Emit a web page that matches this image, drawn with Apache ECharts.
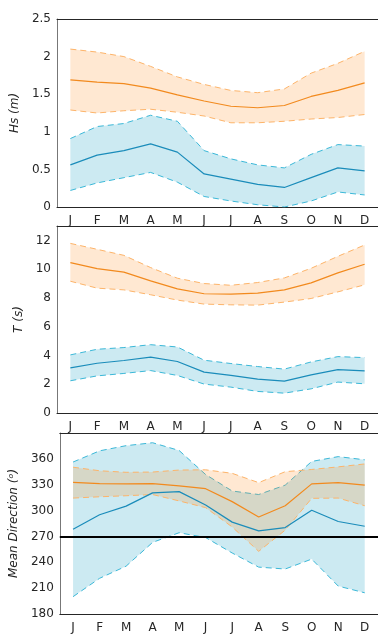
<!DOCTYPE html>
<html><head><meta charset="utf-8">
<script src="https://cdn.jsdelivr.net/npm/echarts@6/dist/echarts.min.js"></script>
<style>html,body{margin:0;padding:0;background:#fff}#c{width:378px;height:634px}</style>
</head><body><div id="c"></div>
<script>
var months = ['J','F','M','A','M','J','J','A','S','O','N','D'];

// Panel 1: Hs (m)
var hsOrangeMean  = [1.69,1.66,1.64,1.58,1.49,1.41,1.34,1.32,1.35,1.47,1.55,1.65];
var hsOrangeUpper = [2.10,2.06,2.00,1.87,1.73,1.63,1.55,1.52,1.57,1.78,1.91,2.07];
var hsOrangeLower = [1.29,1.25,1.28,1.30,1.26,1.21,1.12,1.12,1.14,1.17,1.19,1.23];
var hsBlueMean    = [0.56,0.69,0.75,0.84,0.73,0.44,0.37,0.30,0.26,0.39,0.52,0.48];
var hsBlueUpper   = [0.91,1.07,1.11,1.22,1.14,0.75,0.64,0.56,0.52,0.70,0.83,0.81];
var hsBlueLower   = [0.22,0.32,0.39,0.46,0.33,0.14,0.08,0.03,0.00,0.08,0.20,0.16];

// Panel 2: T (s)
var tOrangeMean  = [10.45,10.04,9.79,9.19,8.63,8.29,8.26,8.33,8.56,9.05,9.74,10.34];
var tOrangeUpper = [11.79,11.38,10.96,10.11,9.37,9.00,8.88,9.07,9.39,10.06,10.89,11.68];
var tOrangeLower = [9.16,8.68,8.56,8.22,7.85,7.57,7.52,7.50,7.71,7.96,8.42,8.91];
var tBlueMean    = [3.14,3.46,3.65,3.88,3.58,2.84,2.61,2.35,2.22,2.65,3.02,2.93];
var tBlueUpper   = [4.04,4.43,4.55,4.75,4.59,3.67,3.44,3.23,3.05,3.55,3.92,3.85];
var tBlueLower   = [2.24,2.58,2.75,2.95,2.61,2.01,1.80,1.50,1.38,1.68,2.15,2.03];

// Panel 3: Mean Direction (deg)
var dOrangeMean  = [332.8,331.3,331.0,331.3,328.7,325.4,310.4,292.6,305.6,331.0,332.4,329.5];
var dOrangeUpper = [350.3,346.2,344.4,344.7,347.0,347.3,343.2,332.4,345.1,347.7,350.7,354.1];
var dOrangeLower = [314.5,316.0,317.2,318.6,311.2,303.4,281.0,252.7,277.3,314.2,314.5,305.6];
var dBlueMean    = [278.4,295.2,305.2,320.5,322.0,306.4,286.6,276.5,280.3,300.4,287.3,281.8];
var dBlueUpper   = [356.3,369.3,375.3,378.7,369.7,341.8,322.7,318.6,329.5,357.0,362.6,358.9];
var dBlueLower   = [200.1,221.4,235.5,263.1,274.3,268.7,250.8,234.4,232.2,243.7,212.4,204.6];
var refDirection = 270;

var yNames = ['Hs (m)', 'T (s)', 'Mean Direction (ᵒ)'];

var TXT = '#262626', AX = '#262626';
var ORANGE = '#F28A1E', BLUE = '#1A8CBA';
var ORANGE_D = '#FDB46A', BLUE_D = '#3BB8D8';
var ORANGE_F = 'rgba(255,140,30,0.2)', BLUE_F = 'rgba(0,150,190,0.2)';
var FONT = 'DejaVu Sans';

var grids = [
  {left:57, top:19, width:327, height:188},
  {left:57, top:226, width:327, height:187},
  {left:57, top:433, width:327, height:187}
];
var xAxes = [], yAxes = [], series = [];
var yCfg = [
  {min:0, max:2.5, interval:0.5, gap:28},
  {min:0, max:13, interval:2, gap:28, hideMax:true},
  {min:180, max:390, interval:30, gap:31, hideMax:true}
];
var data = [
  [hsBlueMean,hsBlueUpper,hsBlueLower,hsOrangeMean,hsOrangeUpper,hsOrangeLower],
  [tBlueMean,tBlueUpper,tBlueLower,tOrangeMean,tOrangeUpper,tOrangeLower],
  [dBlueMean,dBlueUpper,dBlueLower,dOrangeMean,dOrangeUpper,dOrangeLower]
];
function diff(u,l){ return u.map(function(v,k){ return +(v - l[k]).toFixed(3); }); }
for (var i = 0; i < 3; i++) {
  xAxes.push({gridIndex:i, type:'category', data:months, position:'bottom',
    axisLine:{lineStyle:{color:AX, width:1}},
    axisTick:{inside:true, alignWithLabel:true, length:4, lineStyle:{color:AX}},
    axisLabel:{color:TXT, fontFamily:FONT, fontSize:12, margin:8},
    splitLine:{show:false}});
  xAxes.push({gridIndex:i, type:'category', data:months, position:'top',
    axisLine:{lineStyle:{color:AX, width:1}},
    axisTick:{inside:true, alignWithLabel:true, length:4, lineStyle:{color:AX}},
    axisLabel:{show:false}, splitLine:{show:false}});
  var c = yCfg[i];
  yAxes.push({gridIndex:i, type:'value', min:c.min, max:c.max, interval:c.interval,
    name:yNames[i], nameLocation:'middle', nameGap:c.gap,
    nameTextStyle:{color:TXT, fontFamily:FONT, fontSize:12, fontStyle:'italic'},
    axisLine:{show:true, lineStyle:{color:'#777', width:1}},
    axisTick:{inside:true, length:4, lineStyle:{color:AX}},
    axisLabel:{color:TXT, fontFamily:FONT, fontSize:12, margin:6, showMaxLabel: c.hideMax ? false : true},
    splitLine:{show:false}});
  var d = data[i];
  var xi = i*2;
  // blue band
  series.push({type:'line', xAxisIndex:xi, yAxisIndex:i, data:d[2], stack:'b'+i, symbol:'none',
    lineStyle:{color:BLUE_D, width:1, type:[6,4]}, z:2, silent:true});
  series.push({type:'line', xAxisIndex:xi, yAxisIndex:i, data:diff(d[1],d[2]), stack:'b'+i, symbol:'none',
    lineStyle:{opacity:0, width:0}, areaStyle:{color:BLUE_F, opacity:1}, z:1, silent:true});
  series.push({type:'line', xAxisIndex:xi, yAxisIndex:i, data:d[1], symbol:'none',
    lineStyle:{color:BLUE_D, width:1, type:[6,4]}, z:2, silent:true});
  // orange band
  series.push({type:'line', xAxisIndex:xi, yAxisIndex:i, data:d[5], stack:'o'+i, symbol:'none',
    lineStyle:{color:ORANGE_D, width:1, type:[6,4]}, z:4, silent:true});
  series.push({type:'line', xAxisIndex:xi, yAxisIndex:i, data:diff(d[4],d[5]), stack:'o'+i, symbol:'none',
    lineStyle:{opacity:0, width:0}, areaStyle:{color:ORANGE_F, opacity:1}, z:3, silent:true});
  series.push({type:'line', xAxisIndex:xi, yAxisIndex:i, data:d[4], symbol:'none',
    lineStyle:{color:ORANGE_D, width:1, type:[6,4]}, z:4, silent:true});
  // means
  var mb = {type:'line', xAxisIndex:xi, yAxisIndex:i, data:d[0], symbol:'none',
    lineStyle:{color:BLUE, width:1.2}, z:6, silent:true};
  series.push(mb);
  series.push({type:'line', xAxisIndex:xi, yAxisIndex:i, data:d[3], symbol:'none',
    lineStyle:{color:ORANGE, width:1.2}, z:6, silent:true});
  if (i === 2) {
    mb.markLine = {silent:true, symbol:'none', label:{show:false},
      lineStyle:{color:'#000', width:2, type:'solid'}, data:[{yAxis:refDirection}], z:7};
  }
}
var chart = echarts.init(document.getElementById('c'), null, {renderer:'canvas'});
chart.setOption({
  backgroundColor:'#fff', animation:false,
  grid:grids, xAxis:xAxes, yAxis:yAxes, series:series
});
</script></body></html>
